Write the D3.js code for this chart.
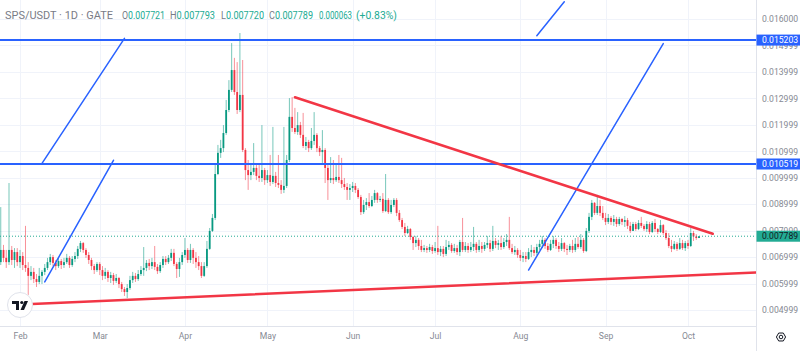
<!DOCTYPE html>
<html>
<head>
<meta charset="utf-8">
<script src="https://cdn.jsdelivr.net/npm/d3@7"></script>
<style>
  body { margin: 0; background: #fff; }
  svg { display: block; font-family: Roboto, "Noto Sans", sans-serif; }
</style>
</head>
<body>
<svg id="chart" width="800" height="351"></svg>
<script>
// SPS/USDT daily candles, 25 Jan 2024 .. 5 Oct 2024 (one value per day)
var firstDay = "2024-01-25";
var firstOpen = 0.00681;
var closes = [
  0.00727,0.00697,0.00681,0.00727,0.00689,0.00719,0.00681,0.00704,0.00670,0.00659,
  0.00629,0.00644,0.00617,0.00606,0.00629,0.00644,0.00659,0.00681,0.00700,0.00678,
  0.00666,0.00685,0.00670,0.00681,0.00697,0.00670,0.00693,0.00704,0.00731,0.00753,
  0.00727,0.00708,0.00689,0.00666,0.00651,0.00674,0.00651,0.00629,0.00644,0.00621,
  0.00632,0.00610,0.00621,0.00598,0.00579,0.00568,0.00583,0.00613,0.00629,0.00617,
  0.00636,0.00651,0.00659,0.00678,0.00666,0.00681,0.00663,0.00647,0.00670,0.00693,
  0.00681,0.00697,0.00716,0.00674,0.00655,0.00681,0.00708,0.00727,0.00689,0.00727,
  0.00697,0.00681,0.00666,0.00629,0.00666,0.00731,0.00799,0.00848,0.01014,0.01094,
  0.01112,0.01169,0.01256,0.01332,0.01407,0.01324,0.01256,0.01313,0.01105,0.01029,
  0.01010,0.01022,0.01037,0.01007,0.00999,0.01029,0.00991,0.01010,0.00984,0.01007,
  0.00980,0.00973,0.00954,0.00969,0.01067,0.01230,0.01188,0.01173,0.01199,0.01162,
  0.01120,0.01135,0.01112,0.01139,0.01162,0.01112,0.01097,0.01105,0.01037,0.00991,
  0.00999,0.00991,0.01003,0.00991,0.00976,0.00965,0.00954,0.00961,0.00969,0.00954,
  0.00927,0.00870,0.00897,0.00908,0.00893,0.00916,0.00942,0.00916,0.00920,0.00874,
  0.00916,0.00870,0.00897,0.00916,0.00867,0.00840,0.00814,0.00791,0.00806,0.00776,
  0.00753,0.00765,0.00742,0.00727,0.00734,0.00727,0.00738,0.00723,0.00734,0.00719,
  0.00731,0.00712,0.00738,0.00746,0.00723,0.00734,0.00719,0.00757,0.00727,0.00742,
  0.00727,0.00738,0.00750,0.00727,0.00742,0.00731,0.00746,0.00753,0.00731,0.00761,
  0.00746,0.00753,0.00738,0.00757,0.00765,0.00734,0.00719,0.00727,0.00708,0.00697,
  0.00704,0.00693,0.00719,0.00727,0.00716,0.00738,0.00750,0.00765,0.00742,0.00727,
  0.00750,0.00765,0.00742,0.00731,0.00753,0.00731,0.00727,0.00742,0.00727,0.00750,
  0.00738,0.00765,0.00723,0.00799,0.00852,0.00905,0.00867,0.00893,0.00867,0.00848,
  0.00833,0.00848,0.00833,0.00844,0.00825,0.00844,0.00833,0.00840,0.00818,0.00799,
  0.00825,0.00806,0.00829,0.00818,0.00806,0.00825,0.00795,0.00829,0.00806,0.00795,
  0.00821,0.00791,0.00772,0.00742,0.00731,0.00750,0.00731,0.00753,0.00734,0.00753,
  0.00742,0.00791,0.00778,0.007721,0.007789
];
var highs = [
  0.00889,0.00746,0.00727,0.00980,0.00742,0.00734,0.00734,0.00727,0.00719,0.00818,
  0.00681,0.00666,0.00659,0.00636,0.00659,0.00651,0.00674,0.00697,0.00712,0.00708,
  0.00689,0.00697,0.00693,0.00697,0.00712,0.00704,0.00704,0.00719,0.00742,0.00761,
  0.00757,0.00734,0.00719,0.00697,0.00674,0.00681,0.00681,0.00666,0.00659,0.00651,
  0.00644,0.00640,0.00636,0.00625,0.00606,0.00587,0.00598,0.00629,0.00644,0.00640,
  0.00651,0.00666,0.00738,0.00689,0.00693,0.00697,0.00742,0.00674,0.00681,0.00704,
  0.00704,0.00708,0.00731,0.00731,0.00681,0.00697,0.00719,0.00772,0.00734,0.00750,
  0.00734,0.00719,0.00704,0.00681,0.00681,0.00761,0.00810,0.00863,0.01048,0.01124,
  0.01143,0.01199,0.01294,0.01369,0.01509,0.01453,0.01437,0.01547,0.01445,0.01112,
  0.01067,0.01048,0.01131,0.01048,0.01048,0.01199,0.01037,0.01029,0.01086,0.01192,
  0.01022,0.01086,0.00991,0.01192,0.01086,0.01301,0.01305,0.01264,0.01248,0.01211,
  0.01245,0.01154,0.01143,0.01188,0.01248,0.01169,0.01120,0.01180,0.01112,0.01048,
  0.01078,0.01067,0.01048,0.01086,0.01075,0.00999,0.00980,0.00976,0.00984,0.00980,
  0.00961,0.00935,0.00916,0.00923,0.00942,0.00931,0.00954,0.00946,0.00931,0.00942,
  0.01014,0.00923,0.00916,0.00923,0.00923,0.00878,0.00848,0.00829,0.00818,0.00810,
  0.00780,0.00780,0.00772,0.00765,0.00746,0.00742,0.00750,0.00746,0.00757,0.00818,
  0.00742,0.00742,0.00765,0.00761,0.00753,0.00750,0.00746,0.00765,0.00848,0.00757,
  0.00753,0.00757,0.00814,0.00757,0.00765,0.00757,0.00757,0.00780,0.00765,0.00818,
  0.00772,0.00765,0.00780,0.00772,0.00787,0.00852,0.00750,0.00742,0.00734,0.00727,
  0.00719,0.00719,0.00734,0.00746,0.00738,0.00750,0.00765,0.00780,0.00772,0.00753,
  0.00765,0.00780,0.00772,0.00757,0.00772,0.00757,0.00746,0.00750,0.00765,0.00772,
  0.00776,0.00787,0.00772,0.00810,0.00867,0.00916,0.00908,0.00935,0.00916,0.00893,
  0.00867,0.00863,0.00855,0.00859,0.00852,0.00852,0.00848,0.00855,0.00848,0.00833,
  0.00833,0.00833,0.00840,0.00852,0.00825,0.00836,0.00833,0.00836,0.00844,0.00810,
  0.00840,0.00825,0.00802,0.00791,0.00765,0.00761,0.00757,0.00772,0.00765,0.00761,
  0.00765,0.00810,0.00799,0.00787,0.007793
];
var lows = [
  0.00670,0.00681,0.00659,0.00670,0.00670,0.00659,0.00666,0.00659,0.00651,0.00644,
  0.00557,0.00613,0.00602,0.00587,0.00598,0.00598,0.00632,0.00651,0.00670,0.00666,
  0.00651,0.00659,0.00655,0.00659,0.00674,0.00659,0.00663,0.00681,0.00693,0.00719,
  0.00716,0.00697,0.00674,0.00651,0.00636,0.00644,0.00632,0.00613,0.00617,0.00606,
  0.00602,0.00595,0.00602,0.00583,0.00568,0.00553,0.00545,0.00576,0.00602,0.00606,
  0.00610,0.00629,0.00629,0.00647,0.00651,0.00655,0.00651,0.00636,0.00640,0.00659,
  0.00670,0.00674,0.00685,0.00666,0.00621,0.00625,0.00670,0.00697,0.00678,0.00678,
  0.00674,0.00659,0.00651,0.00621,0.00625,0.00659,0.00727,0.00795,0.00840,0.01010,
  0.01075,0.01097,0.01162,0.01248,0.01324,0.01313,0.01241,0.01248,0.01097,0.00991,
  0.00954,0.00991,0.01010,0.00991,0.00984,0.00984,0.00973,0.00980,0.00969,0.00976,
  0.00965,0.00961,0.00939,0.00942,0.00961,0.01059,0.01173,0.01165,0.01162,0.01150,
  0.01112,0.01105,0.01097,0.01105,0.01124,0.01097,0.01082,0.01056,0.00980,0.00916,
  0.00980,0.00976,0.00984,0.00980,0.00961,0.00954,0.00916,0.00916,0.00946,0.00942,
  0.00920,0.00859,0.00863,0.00878,0.00886,0.00889,0.00905,0.00905,0.00908,0.00867,
  0.00870,0.00863,0.00863,0.00889,0.00855,0.00833,0.00806,0.00780,0.00787,0.00765,
  0.00727,0.00738,0.00727,0.00719,0.00719,0.00716,0.00719,0.00712,0.00716,0.00708,
  0.00704,0.00700,0.00704,0.00727,0.00716,0.00716,0.00708,0.00704,0.00719,0.00719,
  0.00716,0.00719,0.00723,0.00716,0.00719,0.00716,0.00723,0.00734,0.00719,0.00723,
  0.00734,0.00727,0.00727,0.00731,0.00742,0.00727,0.00712,0.00708,0.00697,0.00685,
  0.00681,0.00681,0.00689,0.00700,0.00704,0.00708,0.00727,0.00734,0.00731,0.00719,
  0.00723,0.00734,0.00731,0.00719,0.00723,0.00719,0.00708,0.00719,0.00716,0.00719,
  0.00731,0.00731,0.00716,0.00719,0.00791,0.00840,0.00859,0.00859,0.00855,0.00840,
  0.00821,0.00825,0.00821,0.00818,0.00814,0.00818,0.00821,0.00814,0.00806,0.00791,
  0.00799,0.00799,0.00802,0.00810,0.00799,0.00795,0.00787,0.00791,0.00795,0.00787,
  0.00791,0.00784,0.00765,0.00734,0.00719,0.00727,0.00723,0.00727,0.00727,0.00723,
  0.00731,0.00738,0.00761,0.00765,0.007720
];

// price axis
var priceTicks = [0.016, 0.015, 0.014, 0.013, 0.012, 0.011, 0.010, 0.009, 0.008, 0.007, 0.006, 0.005];
var priceTickLabels = ["0.016000","0.014999","0.013999","0.012999","0.011999","0.010999",
                       "0.009999","0.008999","0.007999","0.006999","0.005999","0.004999"];

// horizontal levels (blue) and last price
var levels = [0.015203, 0.010519];
var lastPrice = 0.007789;

// drawn trend lines: [date, price] -> [date, price]
var blueLines = [
  [["2024-02-09", 0.01054], ["2024-03-10", 0.01527]],
  [["2024-02-10", 0.00606], ["2024-03-06", 0.01066]],
  [["2024-08-07", 0.01537], ["2024-08-17", 0.01665]],
  [["2024-08-04", 0.00651], ["2024-09-22", 0.01507]]
];
var redLines = [
  [["2024-05-11", 0.01304], ["2024-10-10", 0.00788]],
  [["2024-01-28", 0.00519], ["2024-10-31", 0.00644]]
];

var legendTitle = "SPS/USDT · 1D · GATE";
var legendItems = [["O", "0.007721"], ["H", "0.007793"], ["L", "0.007720"], ["C", "0.007789"], ["", "0.000063"], ["", "(+0.83%)"]];

var W = 800, H = 351;
var paneW = 756, paneH = 326;
var green = "#089981", red = "#f23645", blue = "#2962ff";

var parse = d3.utcParse("%Y-%m-%d");
var day0 = parse(firstDay);
var candles = closes.map(function(c, i) {
  return {
    date: d3.utcDay.offset(day0, i),
    open: i === 0 ? firstOpen : closes[i - 1],
    close: c, high: highs[i], low: lows[i]
  };
});

var x = d3.scaleUtc()
  .domain([parse("2024-02-01"), parse("2024-10-01")])
  .range([20, 688]);
var y = d3.scaleLinear()
  .domain([0.005, 0.016])
  .range([310, 19]);

var svg = d3.select("#chart");

svg.append("defs").append("clipPath").attr("id", "pane")
  .append("rect").attr("x", 0).attr("y", 0).attr("width", paneW).attr("height", paneH);

// grid
var months = d3.utcMonths(parse("2024-02-01"), parse("2024-10-02"));
var grid = svg.append("g").attr("stroke", "#f0f3fa").attr("stroke-width", 1);
grid.selectAll(".gx").data(months).enter().append("line")
  .attr("x1", function(d) { return Math.round(x(d)) + 0.5; })
  .attr("x2", function(d) { return Math.round(x(d)) + 0.5; })
  .attr("y1", 0).attr("y2", paneH);
grid.selectAll(".gy").data(priceTicks).enter().append("line")
  .attr("x1", 0).attr("x2", paneW)
  .attr("y1", function(d) { return Math.round(y(d)) + 0.5; })
  .attr("y2", function(d) { return Math.round(y(d)) + 0.5; });

// axis borders
svg.append("line").attr("x1", paneW + 0.5).attr("x2", paneW + 0.5).attr("y1", 0).attr("y2", H)
  .attr("stroke", "#e0e3eb");
svg.append("line").attr("x1", 0).attr("x2", paneW).attr("y1", paneH + 0.5).attr("y2", paneH + 0.5)
  .attr("stroke", "#e0e3eb");

var pane = svg.append("g").attr("clip-path", "url(#pane)");

// candles
var cg = pane.append("g");
cg.selectAll(".wick").data(candles).enter().append("line")
  .attr("x1", function(d) { return x(d.date); })
  .attr("x2", function(d) { return x(d.date); })
  .attr("y1", function(d) { return y(d.high); })
  .attr("y2", function(d) { return y(d.low); })
  .attr("stroke", function(d) { return d.close >= d.open ? green : red; })
  .attr("stroke-opacity", 0.55)
  .attr("stroke-width", 1);
cg.selectAll(".body").data(candles).enter().append("rect")
  .attr("x", function(d) { return x(d.date) - 0.9; })
  .attr("width", 1.8)
  .attr("y", function(d) { return y(Math.max(d.open, d.close)); })
  .attr("height", function(d) { return Math.max(1, Math.abs(y(d.open) - y(d.close))); })
  .attr("fill", function(d) { return d.close >= d.open ? green : red; });

// last price dotted line
pane.append("line")
  .attr("x1", 0).attr("x2", paneW)
  .attr("y1", y(lastPrice)).attr("y2", y(lastPrice))
  .attr("stroke", "#22ab94").attr("stroke-width", 1).attr("stroke-dasharray", "1,2");

// horizontal levels
pane.selectAll(".level").data(levels).enter().append("line")
  .attr("x1", 0).attr("x2", paneW)
  .attr("y1", function(d) { return y(d); }).attr("y2", function(d) { return y(d); })
  .attr("stroke", blue).attr("stroke-width", 2);

// trend lines
function drawSegs(data, color, width) {
  pane.selectAll(null).data(data).enter().append("line")
    .attr("x1", function(d) { return x(parse(d[0][0])); })
    .attr("y1", function(d) { return y(d[0][1]); })
    .attr("x2", function(d) { return x(parse(d[1][0])); })
    .attr("y2", function(d) { return y(d[1][1]); })
    .attr("stroke", color).attr("stroke-width", width).attr("stroke-linecap", "round");
}
drawSegs(blueLines, blue, 1.5);
drawSegs(redLines, red, 2.5);

// price axis
var yAxis = d3.axisRight(y)
  .tickValues(priceTicks)
  .tickFormat(function(d, i) { return priceTickLabels[i]; })
  .tickSize(0).tickPadding(6);
var ya = svg.append("g").attr("transform", "translate(" + paneW + ",0)").call(yAxis);
ya.select(".domain").remove();
ya.selectAll("text").attr("fill", "#868993").attr("font-size", "8.6px").attr("font-family", "Roboto, sans-serif");

// price labels
function priceLabel(v, bg, fg) {
  var g = svg.append("g").attr("transform", "translate(" + paneW + "," + y(v) + ")");
  g.append("rect").attr("x", 0.5).attr("y", -5.5).attr("width", W - paneW).attr("height", 11).attr("fill", bg);
  g.append("text").attr("x", 6).attr("y", 3.1).attr("font-size", "8.6px").attr("fill", fg)
    .text(d3.format(".6f")(v));
}
levels.forEach(function(v) { priceLabel(v, blue, "#ffffff"); });
priceLabel(lastPrice, "#22ab94", "#131722");

// time axis
var xAxis = d3.axisBottom(x)
  .tickValues(months)
  .tickFormat(d3.utcFormat("%b"))
  .tickSize(0).tickPadding(7);
var xa = svg.append("g").attr("transform", "translate(0," + paneH + ")").call(xAxis);
xa.select(".domain").remove();
xa.selectAll("text").attr("fill", "#868993").attr("font-size", "8.6px").attr("font-family", "Roboto, sans-serif");

// legend (widths fitted to the reference)
var legend = svg.append("g").attr("font-size", "10px");
legend.append("text").attr("x", 5).attr("y", 18.5).attr("fill", "#787b86")
  .attr("textLength", 108).attr("lengthAdjust", "spacingAndGlyphs").text(legendTitle);
var legendX = [122, 170, 221, 269, 319, 356];
var legendW = [43, 45, 43, 44, 33, 41];
legendItems.forEach(function(it, i) {
  var t = legend.append("text").attr("x", legendX[i]).attr("y", 18.5)
    .attr("textLength", legendW[i]).attr("lengthAdjust", "spacingAndGlyphs");
  if (it[0]) t.append("tspan").attr("fill", "#787b86").text(it[0]);
  t.append("tspan").attr("fill", "#22ab94").text(it[1]);
});

// TradingView badge
var tv = svg.append("g").attr("transform", "translate(20,305)");
tv.append("circle").attr("r", 12.5).attr("fill", "#fff").attr("stroke", "#e0e3eb");
tv.append("path").attr("d", "M-8,-4h7v9h-3v-6h-4z").attr("fill", "#131722");
tv.append("circle").attr("cx", 1.8).attr("cy", -2.5).attr("r", 1.6).attr("fill", "#131722");
tv.append("path").attr("d", "M4.5,-4h3.5l-4,9h-3.5z").attr("fill", "#131722");

// settings icon
var gear = svg.append("g").attr("transform", "translate(781,337)")
  .attr("fill", "none").attr("stroke", "#131722").attr("stroke-width", 1);
gear.append("path").attr("d", d3.line()(d3.range(6).map(function(k) {
  var a = Math.PI / 3 * k;
  return [4.6 * Math.cos(a), 4.6 * Math.sin(a)];
})) + "Z");
gear.append("circle").attr("r", 1.8);
</script>
</body>
</html>
